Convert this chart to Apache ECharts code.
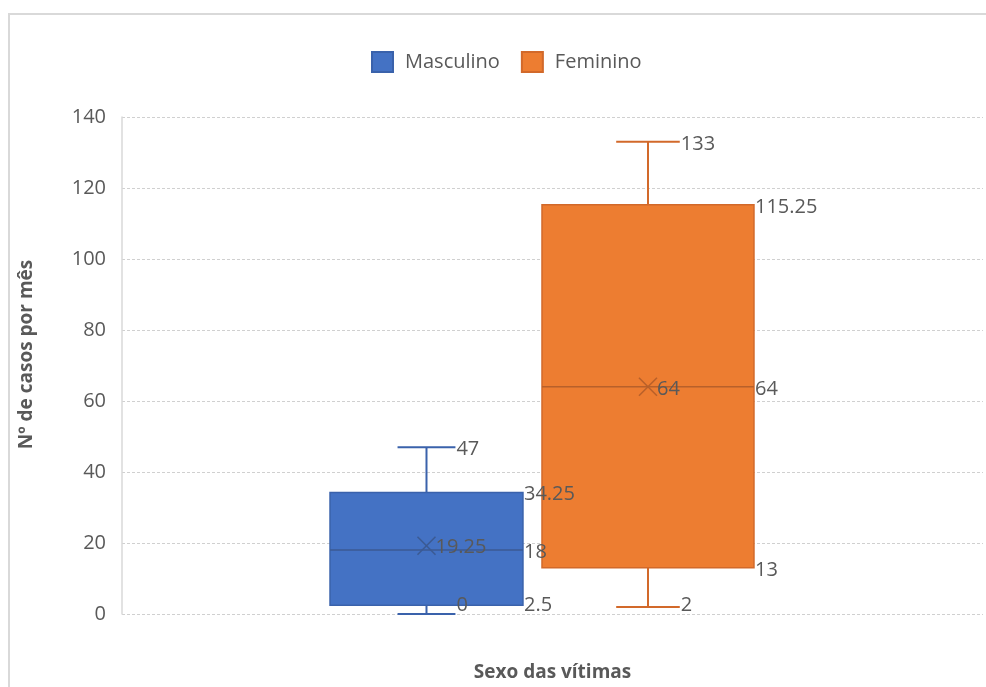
<!DOCTYPE html>
<html>
<head>
<meta charset="utf-8">
<title>Nº de casos por mês por sexo</title>
<script src="https://cdn.jsdelivr.net/npm/echarts@6/dist/echarts.min.js"></script>
<style>
  html, body { margin: 0; padding: 0; background: #fff; }
  #chart { width: 986px; height: 687px; }
</style>
</head>
<body>
<div id="chart"></div>
<script>
// Monthly case counts by victim sex: five-number summary plus mean
const categories = [''];
const seriesNames = ['Masculino', 'Feminino'];
const minValues    = [0, 2];
const q1Values     = [2.5, 13];
const medianValues = [18, 64];
const q3Values     = [34.25, 115.25];
const maxValues    = [47, 133];
const meanValues   = [19.25, 64];
const yTicks = [0, 20, 40, 60, 80, 100, 120, 140];

const fillColors = ['#4472C4', '#ED7D31'];
const lineColors = ['#3A62AB', '#D2692A'];
const markColors = ['#3B5A93', '#B8602A'];
// box span across the category band (fraction of band width)
const boxSpan = [[0.2416, 0.4657], [0.4878, 0.7340]];
const labelColor = '#595959';
const fontFamily = '"Open Sans", "Noto Sans", sans-serif';
const labelSize = 20;

function makeRender(idx) {
  return function (params, api) {
    const cat = api.value(0);
    const center = api.coord([cat, 0]);
    const band = api.size([1, 0])[0];
    const bandStart = center[0] - band / 2;
    const x0 = bandStart + band * boxSpan[idx][0];
    const x1 = bandStart + band * boxSpan[idx][1];
    const cx = (x0 + x1) / 2;
    const capHalf = (x1 - x0) * 0.15;
    const yOf = v => api.coord([cat, v])[1];
    const plotBottom = yOf(0);
    const vMin = api.value(1), vQ1 = api.value(2), vMed = api.value(3),
          vQ3 = api.value(4), vMax = api.value(5), vMean = api.value(6);
    const yMin = yOf(vMin), yQ1 = yOf(vQ1), yMed = yOf(vMed),
          yQ3 = yOf(vQ3), yMax = yOf(vMax), yMean = yOf(vMean);
    const lc = lineColors[idx];
    const mk = markColors[idx];
    const lineStyle = { stroke: lc, lineWidth: 2 };
    const label = (txt, x, y) => ({
      type: 'text',
      style: {
        text: txt, x: x, y: Math.min(y + 2, plotBottom - 9),
        align: 'left', verticalAlign: 'middle',
        fill: labelColor, fontSize: labelSize, fontFamily: fontFamily
      },
      z2: 20
    });
    const m = 9;
    return {
      type: 'group',
      children: [
        { type: 'line', shape: { x1: cx, y1: yMax, x2: cx, y2: yQ3 }, style: lineStyle },
        { type: 'line', shape: { x1: cx, y1: yQ1, x2: cx, y2: yMin }, style: lineStyle },
        { type: 'line', shape: { x1: cx - capHalf, y1: yMax, x2: cx + capHalf, y2: yMax }, style: lineStyle },
        { type: 'line', shape: { x1: cx - capHalf, y1: yMin, x2: cx + capHalf, y2: yMin }, style: lineStyle },
        { type: 'rect', shape: { x: x0, y: yQ3, width: x1 - x0, height: yQ1 - yQ3 },
          style: { fill: fillColors[idx], stroke: lc, lineWidth: 1.5 } },
        { type: 'line', shape: { x1: x0, y1: yMed, x2: x1, y2: yMed }, style: { stroke: mk, lineWidth: 1.5 }, z2: 5 },
        { type: 'line', shape: { x1: cx - m, y1: yMean - m, x2: cx + m, y2: yMean + m }, style: { stroke: mk, lineWidth: 1.5 }, z2: 6 },
        { type: 'line', shape: { x1: cx - m, y1: yMean + m, x2: cx + m, y2: yMean - m }, style: { stroke: mk, lineWidth: 1.5 }, z2: 6 },
        label(String(vMax), cx + capHalf + 1, yMax),
        label(String(vMin), cx + capHalf + 1, yMin),
        label(String(vQ3), x1 + 1, yQ3),
        label(String(vMed), x1 + 1, yMed),
        label(String(vQ1), x1 + 1, yQ1),
        label(String(vMean), cx + m, yMean)
      ]
    };
  };
}

const series = seriesNames.map((name, i) => ({
  name: name,
  type: 'custom',
  renderItem: makeRender(i),
  itemStyle: { color: fillColors[i], borderColor: lineColors[i], borderWidth: 1.5 },
  encode: { x: 0, y: [1, 2, 3, 4, 5, 6] },
  data: categories.map((c, j) => [j, minValues[i], q1Values[i], medianValues[i], q3Values[i], maxValues[i], meanValues[i]]),
  clip: false
}));

const chart = echarts.init(document.getElementById('chart'), null, { renderer: 'canvas' });
chart.setOption({
  animation: false,
  backgroundColor: '#ffffff',
  textStyle: { fontFamily: fontFamily },
  graphic: [{
    type: 'rect', silent: true, z: -10,
    shape: { x: 9, y: 14, width: 1000, height: 700 },
    style: { fill: 'none', stroke: '#D9D9D9', lineWidth: 2 }
  }],
  legend: {
    data: seriesNames,
    left: 371, top: 51,
    padding: 0,
    icon: 'rect',
    itemWidth: 21, itemHeight: 20, itemGap: 21,
    textStyle: { fontSize: 20, color: labelColor, fontFamily: fontFamily, padding: [0, 0, 0, 7] }
  },
  grid: { left: 122, right: 3, top: 117, bottom: 73, containLabel: false },
  xAxis: {
    type: 'category',
    data: categories,
    name: 'Sexo das vítimas',
    nameLocation: 'middle',
    nameGap: 49,
    nameTextStyle: { fontSize: 19, fontWeight: 'bold', color: labelColor, fontFamily: fontFamily },
    axisLine: { show: false },
    axisTick: { show: false },
    axisLabel: { show: false }
  },
  yAxis: {
    type: 'value',
    min: yTicks[0],
    max: yTicks[yTicks.length - 1],
    interval: yTicks[1] - yTicks[0],
    name: 'Nº de casos por mês',
    nameLocation: 'middle',
    nameRotate: 90,
    nameGap: 86,
    nameTextStyle: { fontSize: 19, fontWeight: 'bold', color: labelColor, fontFamily: fontFamily, padding: [0, 0, 0, 22] },
    axisLine: { show: true, lineStyle: { color: '#D9D9D9', width: 1.5 } },
    axisTick: { show: false },
    axisLabel: { fontSize: 20, color: labelColor, margin: 16, fontFamily: fontFamily, padding: [6, 0, 0, 0] },
    splitLine: { show: true, lineStyle: { color: '#D0D0D0', type: [3, 2], width: 1 } }
  },
  series: series
});
</script>
</body>
</html>
